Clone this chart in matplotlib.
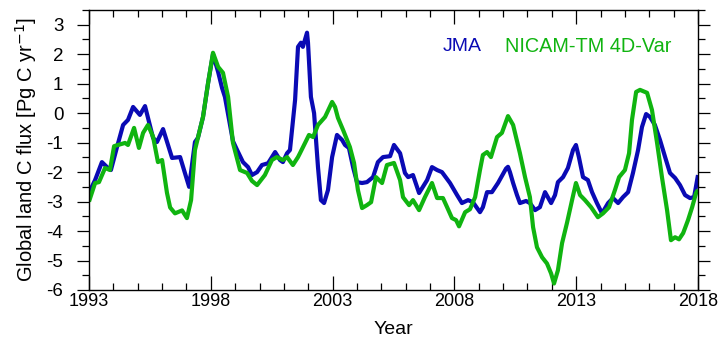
import matplotlib
matplotlib.use("Agg")
import matplotlib.pyplot as plt
from matplotlib.ticker import MultipleLocator

# ---- data ----
jma_year = [1993.00, 1993.25, 1993.53, 1993.74, 1993.90, 1994.15, 1994.40, 1994.60, 1994.81, 1995.09,
            1995.30, 1995.63, 1995.79, 1996.04, 1996.41, 1996.74, 1997.11, 1997.35, 1997.47, 1997.68,
            1997.89, 1998.09, 1998.30, 1998.46, 1998.58, 1998.91, 1999.08, 1999.32, 1999.53, 1999.69,
            1999.90, 2000.10, 2000.35, 2000.64, 2000.84, 2000.96, 2001.13, 2001.25, 2001.46, 2001.58,
            2001.70, 2001.78, 2001.95, 2001.99, 2002.11, 2002.24, 2002.40, 2002.52, 2002.65, 2002.81,
            2002.98, 2003.18, 2003.39, 2003.51, 2003.67, 2003.84, 2004.00, 2004.21, 2004.41, 2004.66,
            2004.86, 2005.07, 2005.36, 2005.52, 2005.77, 2005.97, 2006.10, 2006.30, 2006.55, 2006.88,
            2007.08, 2007.29, 2007.49, 2007.82, 2008.11, 2008.31, 2008.56, 2008.76, 2009.05, 2009.17,
            2009.34, 2009.54, 2009.79, 2010.12, 2010.20, 2010.28, 2010.41, 2010.57, 2010.69, 2010.94,
            2011.10, 2011.31, 2011.51, 2011.72, 2011.97, 2012.13, 2012.25, 2012.46, 2012.66, 2012.87,
            2012.99, 2013.11, 2013.28, 2013.48, 2013.65, 2013.85, 2014.06, 2014.31, 2014.51, 2014.72,
            2014.92, 2015.13, 2015.33, 2015.54, 2015.70, 2015.87, 2016.03, 2016.23, 2016.44, 2016.65,
            2016.85, 2017.06, 2017.26, 2017.47, 2017.67, 2017.84, 2018.00]
jma_flux = [-2.70, -2.27, -1.66, -1.83, -1.93, -1.15, -0.40, -0.23, 0.21, -0.06,
            0.24, -0.84, -0.98, -0.54, -1.52, -1.49, -2.50, -0.98, -0.84, -0.13,
            1.03, 2.00, 1.40, 0.86, 0.55, -0.95, -1.25, -1.66, -1.83, -2.10,
            -2.00, -1.76, -1.70, -1.32, -1.59, -1.66, -1.36, -1.25, 0.45, 2.25,
            2.39, 2.25, 2.73, 2.39, 0.55, 0.00, -1.83, -2.95, -3.05, -2.61,
            -1.49, -0.74, -0.91, -1.08, -1.18, -1.83, -2.34, -2.37, -2.34, -2.17,
            -1.66, -1.49, -1.46, -1.08, -1.36, -2.03, -2.17, -2.10, -2.71, -2.27,
            -1.83, -1.93, -2.00, -2.37, -2.78, -3.05, -2.95, -3.02, -3.36, -3.19,
            -2.68, -2.68, -2.37, -1.88, -1.82, -2.00, -2.37, -2.78, -3.05, -2.98,
            -3.05, -3.29, -3.19, -2.68, -3.05, -2.78, -2.34, -2.17, -1.86, -1.25,
            -1.08, -1.49, -2.17, -2.27, -2.68, -3.05, -3.40, -3.05, -2.88, -3.05,
            -2.85, -2.68, -2.03, -1.25, -0.47, -0.03, -0.13, -0.40, -0.91, -1.49,
            -2.03, -2.20, -2.44, -2.78, -2.88, -2.85, -2.10]

nicam_year = [1993.00, 1993.25, 1993.41, 1993.66, 1993.86, 1994.03, 1994.19, 1994.48, 1994.60, 1994.85,
              1995.05, 1995.22, 1995.42, 1995.63, 1995.83, 1996.00, 1996.20, 1996.33, 1996.53, 1996.82,
              1997.02, 1997.19, 1997.35, 1997.47, 1997.68, 1997.89, 1998.09, 1998.30, 1998.50, 1998.71,
              1998.91, 1999.20, 1999.49, 1999.69, 1999.90, 2000.22, 2000.51, 2000.71, 2000.96, 2001.13,
              2001.37, 2001.58, 2001.66, 2001.87, 2002.03, 2002.20, 2002.40, 2002.69, 2002.98, 2003.10,
              2003.22, 2003.43, 2003.71, 2003.88, 2004.04, 2004.21, 2004.41, 2004.58, 2004.78, 2005.03,
              2005.23, 2005.52, 2005.77, 2005.89, 2006.14, 2006.30, 2006.55, 2006.79, 2007.08, 2007.29,
              2007.53, 2007.70, 2007.90, 2008.07, 2008.19, 2008.44, 2008.64, 2008.85, 2009.05, 2009.17,
              2009.34, 2009.50, 2009.75, 2009.95, 2010.20, 2010.41, 2010.69, 2010.90, 2011.10, 2011.23,
              2011.39, 2011.60, 2011.80, 2011.97, 2012.09, 2012.25, 2012.42, 2012.62, 2012.83, 2012.99,
              2013.16, 2013.36, 2013.61, 2013.89, 2014.10, 2014.35, 2014.59, 2014.76, 2015.00, 2015.17,
              2015.29, 2015.46, 2015.62, 2015.91, 2016.11, 2016.32, 2016.52, 2016.73, 2016.89, 2017.06,
              2017.22, 2017.39, 2017.59, 2017.76, 2017.92, 2018.00]
nicam_flux = [-3.00, -2.37, -2.34, -1.86, -1.93, -1.12, -1.08, -1.01, -1.08, -0.50,
              -1.18, -0.67, -0.40, -0.80, -1.66, -1.59, -2.70, -3.20, -3.40, -3.30,
              -3.56, -2.95, -1.25, -0.84, -0.13, 1.03, 2.05, 1.57, 1.37, 0.55,
              -1.01, -1.93, -2.03, -2.30, -2.44, -2.10, -1.59, -1.49, -1.59, -1.49,
              -1.76, -1.49, -1.36, -1.01, -0.74, -0.81, -0.40, -0.13, 0.38, 0.21,
              -0.16, -0.57, -1.15, -1.69, -2.61, -3.22, -3.12, -3.02, -2.17, -2.37,
              -1.76, -1.69, -2.27, -2.85, -3.12, -2.95, -3.29, -2.85, -2.37, -2.88,
              -2.88, -3.19, -3.56, -3.63, -3.84, -3.36, -3.26, -2.85, -1.93, -1.42,
              -1.32, -1.49, -0.81, -0.67, -0.10, -0.40, -1.36, -2.17, -2.85, -3.87,
              -4.55, -4.89, -5.10, -5.44, -5.78, -5.33, -4.41, -3.73, -2.95, -2.37,
              -2.78, -2.95, -3.19, -3.53, -3.40, -3.19, -2.61, -2.17, -1.93, -1.36,
              -0.23, 0.72, 0.79, 0.69, 0.11, -1.01, -2.17, -3.29, -4.31, -4.21,
              -4.28, -4.07, -3.63, -3.19, -2.71, -2.60]

xticks = [1993, 1998, 2003, 2008, 2013, 2018]
yticks = [3, 2, 1, 0, -1, -2, -3, -4, -5, -6]
series_names = ["JMA", "NICAM-TM 4D-Var"]
series_colors = ["#0a0ab4", "#10b410"]

# ---- figure ----
plt.rcParams['font.family'] = ['Liberation Sans', 'DejaVu Sans']
fig = plt.figure(figsize=(7.2, 3.39), dpi=100)
ax = fig.add_axes([89/720, 1-290/339, 609/720, 280/339])

ax.plot(jma_year, jma_flux, color=series_colors[0], lw=3.0, solid_joinstyle='round', solid_capstyle='butt')
ax.plot(nicam_year, nicam_flux, color=series_colors[1], lw=3.0, solid_joinstyle='round', solid_capstyle='butt')

ax.set_xlim(1993, 2018)
ax.set_ylim(-6, 3.5)
ax.set_xticks(xticks)
ax.set_xticklabels([str(t) for t in xticks], family=['Liberation Sans Narrow', 'Liberation Sans'], fontsize=13)
ax.set_yticks(yticks)
ax.set_yticklabels([str(t) for t in yticks], fontsize=13.5)
ax.xaxis.set_minor_locator(MultipleLocator(1))
ax.yaxis.set_minor_locator(MultipleLocator(0.5))

for s in ax.spines.values():
    s.set_linewidth(1.0)

ax.tick_params(axis='x', which='major', direction='in', length=10, width=0.9, top=True, bottom=True, pad=2)
ax.tick_params(axis='x', which='minor', direction='in', length=5, width=0.9, top=True, bottom=True)
ax.tick_params(axis='y', which='major', direction='out', length=8.5, width=0.9, left=True, right=True, pad=10)
ax.tick_params(axis='y', which='minor', direction='out', length=5, width=0.9, left=True, right=True)

ax.set_xlabel("Year", fontsize=14, family=['Liberation Sans Narrow', 'Liberation Sans'], labelpad=8)
ax.set_ylabel("Global land C flux [Pg C yr$^{-1}$]", fontsize=14.5, labelpad=5)

ax.text(0.581, 0.868, series_names[0], transform=ax.transAxes, color=series_colors[0],
        fontsize=14, ha='left', va='center')
ax.text(0.683, 0.868, series_names[1], transform=ax.transAxes, color=series_colors[1],
        fontsize=14.3, ha='left', va='center')

fig.savefig("out.png", dpi=100)
